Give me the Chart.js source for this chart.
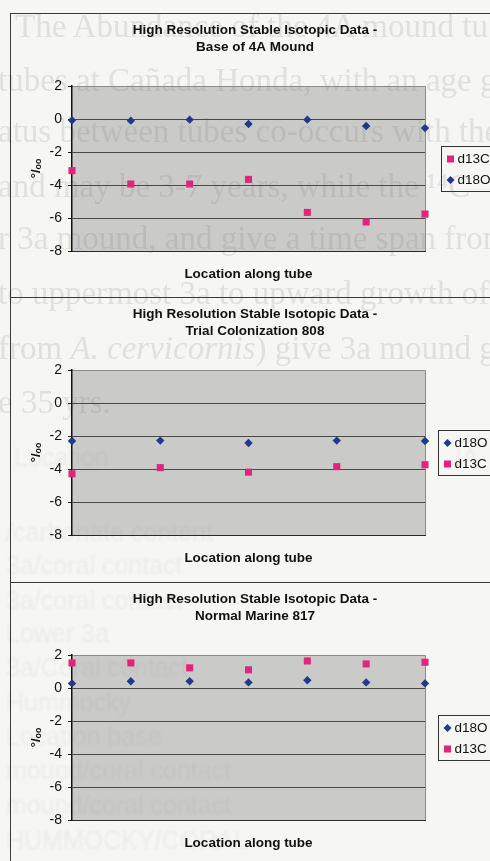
<!DOCTYPE html>
<html>
<head>
<meta charset="utf-8">
<script src="https://cdn.jsdelivr.net/npm/chart.js@4.4.1/dist/chart.umd.min.js"></script>
<style>
  html, body { margin: 0; padding: 0; width: 490px; height: 861px; overflow: hidden; background: #f6f6f3; }
  #page { position: absolute; left: 0; top: 0; width: 490px; height: 861px; overflow: hidden; }
  .bg { position: absolute; white-space: nowrap; font-family: 'Liberation Serif', 'Times New Roman', serif;
        font-size: 33px; line-height: 1; color: #e0e0de; filter: blur(0.7px); }
  .bg.tab { font-family: 'Liberation Sans', Arial, sans-serif; font-size: 25px; color: #ebebe9; filter: blur(1px); }
  .frame { position: absolute; left: 10px; width: 540px; border-left: 1px solid #3a3a3a; border-top: 1px solid #3a3a3a; }
  .frame canvas { position: absolute; left: 0; top: 0; }
</style>
</head>
<body>
<div id="page">
  <!-- page text printed underneath the figures -->
  <div class="bg" style="left:15px;top:10px">The Abundance of the 4A mound tubes are</div>
  <div class="bg" style="left:-2px;top:64px">tubes at Cañada Honda, with an age gap</div>
  <div class="bg" style="left:-2px;top:115px">atus between tubes co-occurs with the</div>
  <div class="bg" style="left:-2px;top:170px">and may be 3-7 years, while the ¹⁴C</div>
  <div class="bg" style="left:-2px;top:222px">r 3a mound, and give a time span from</div>
  <div class="bg" style="left:-2px;top:277px">to uppermost 3a to upward growth of T</div>
  <div class="bg" style="left:-2px;top:332px">from <i>A. cervicornis</i>) give 3a mound g</div>
  <div class="bg" style="left:-2px;top:386px">e 35 yrs.</div>
  <div class="bg tab" style="left:14px;top:445px">Location</div>
  <div class="bg tab" style="left:455px;top:445px">IA</div>
  <div class="bg tab" style="left:6px;top:520px">/carbonate content</div>
  <div class="bg tab" style="left:6px;top:553px">3a/coral contact</div>
  <div class="bg tab" style="left:6px;top:588px">3a/coral contact</div>
  <div class="bg tab" style="left:6px;top:621px">Lower 3a</div>
  <div class="bg tab" style="left:6px;top:655px">3a/Coral contact</div>
  <div class="bg tab" style="left:6px;top:690px">Hummocky</div>
  <div class="bg tab" style="left:6px;top:724px">Location base</div>
  <div class="bg tab" style="left:6px;top:758px">mound/coral contact</div>
  <div class="bg tab" style="left:6px;top:793px">mound/coral contact</div>
  <div class="bg tab" style="left:6px;top:828px">HUMMOCKY/CORAL</div>

  <div class="frame" style="top:13px;height:284px"><canvas id="c1" width="488" height="285"></canvas></div>
  <div class="frame" style="top:297px;height:285px"><canvas id="c2" width="488" height="285"></canvas></div>
  <div class="frame" style="top:582px;height:300px"><canvas id="c3" width="488" height="285"></canvas></div>
</div>

<script>
// Sample positions along each tube
const locations4A = ['1', '2', '3', '4', '5', '6', '7'];
const locations808 = ['1', '2', '3', '4', '5'];
const locations817 = ['1', '2', '3', '4', '5', '6', '7'];

// Base of 4A Mound (per mil)
const base4A_d13C = [-3.13, -3.94, -3.94, -3.66, -5.66, -6.24, -5.76];
const base4A_d18O = [-0.08, -0.10, -0.04, -0.30, -0.04, -0.42, -0.55];

// Trial Colonization 808 (per mil)
const trial808_d18O = [-2.30, -2.28, -2.42, -2.28, -2.30];
const trial808_d13C = [-4.29, -3.92, -4.19, -3.86, -3.74];

// Normal Marine 817 (per mil)
const marine817_d18O = [0.28, 0.41, 0.41, 0.34, 0.47, 0.34, 0.28];
const marine817_d13C = [1.52, 1.52, 1.22, 1.10, 1.64, 1.46, 1.56];

// Value axis
const yMin = -8;
const yMax = 2;
const yStep = 2;

const titleTop = 'High Resolution Stable Isotopic Data -';
const xTitle = 'Location along tube';
const yTitle = '°/ₒₒ';

const SANS = "'Liberation Sans', Arial, Helvetica, sans-serif";
const PINK = '#e1247c';
const NAVY = '#203a8a';

function carbon(values) {
  return { label: 'd13C', data: values, pointStyle: 'rect', pointRadius: 5,
           backgroundColor: PINK, borderColor: PINK, borderWidth: 0 };
}
function oxygen(values) {
  return { label: 'd18O', data: values, pointStyle: 'rectRot', pointRadius: 4.2,
           backgroundColor: NAVY, borderColor: NAVY, borderWidth: 0 };
}

// grey plot area with a light frame on top and right
const plotArea = {
  id: 'plotArea',
  beforeDraw(chart) {
    const { ctx, chartArea: a } = chart;
    ctx.save();
    ctx.fillStyle = 'rgba(118,118,116,0.34)';
    ctx.fillRect(a.left, a.top, a.right - a.left, a.bottom - a.top);
    ctx.strokeStyle = '#8c8c8a';
    ctx.lineWidth = 1;
    ctx.beginPath();
    ctx.moveTo(a.left, Math.round(a.top) + 0.5);
    ctx.lineTo(Math.round(a.right) + 0.5, Math.round(a.top) + 0.5);
    ctx.lineTo(Math.round(a.right) + 0.5, a.bottom);
    ctx.stroke();
    ctx.restore();
  }
};

// framed legend beside the plot area
const boxLegend = {
  id: 'boxLegend',
  afterDraw(chart, args, opts) {
    const { ctx, chartArea: a } = chart;
    const sets = chart.data.datasets;
    const x0 = Math.round(a.right + opts.dx) + 0.5;
    const cy = (a.top + a.bottom) / 2;
    const h = 45, w = 62;
    const y0 = Math.round(cy - h / 2) + 0.5;
    ctx.save();
    ctx.strokeStyle = '#333';
    ctx.lineWidth = 1;
    ctx.strokeRect(x0, y0, w, h);
    ctx.font = '13.5px ' + SANS;
    ctx.textBaseline = 'middle';
    ctx.textAlign = 'left';
    sets.forEach((d, i) => {
      const y = cy + 1 + (i - (sets.length - 1) / 2) * 21;
      const mx = x0 + 9;
      ctx.fillStyle = d.backgroundColor;
      ctx.beginPath();
      if (d.pointStyle === 'rect') {
        ctx.rect(mx - 3.5, y - 3.5, 7, 7);
      } else {
        ctx.moveTo(mx - 4, y); ctx.lineTo(mx, y - 4); ctx.lineTo(mx + 4, y); ctx.lineTo(mx, y + 4); ctx.closePath();
      }
      ctx.fill();
      ctx.fillStyle = '#111';
      ctx.fillText(d.label, x0 + 16, y + 0.5);
    });
    ctx.restore();
  }
};

function makeChart(id, subtitle, labels, datasets, legendDx) {
  return new Chart(document.getElementById(id), {
    type: 'line',
    data: { labels, datasets: datasets.map(d => Object.assign({ showLine: false, clip: false }, d)) },
    plugins: [plotArea, boxLegend],
    options: {
      responsive: false,
      devicePixelRatio: 1,
      animation: false,
      events: [],
      layout: { padding: 0 },
      plugins: {
        legend: { display: false },
        tooltip: { enabled: false },
        boxLegend: { dx: legendDx },
        title: {
          display: true,
          text: [titleTop, subtitle],
          color: '#111',
          font: { family: SANS, size: 13.5, weight: 'bold', lineHeight: '17px' },
          padding: { top: 8, bottom: 30 }
        }
      },
      scales: {
        x: {
          type: 'category',
          offset: false,
          ticks: { display: false },
          grid: { display: false },
          border: { display: true, color: '#2a2a2a', width: 1 },
          title: {
            display: true, text: xTitle, color: '#111',
            font: { family: SANS, size: 13.5, weight: 'bold' },
            padding: { top: 4, bottom: 17 }
          },
          afterFit(s) { s.height = 48; }
        },
        y: {
          min: yMin, max: yMax,
          ticks: { stepSize: yStep, color: '#111', font: { family: SANS, size: 14 }, padding: 6 },
          grid: {
            color: c => (c.tick && c.tick.value === yMax) ? '#8c8c8a' : '#4a4a4a',
            lineWidth: 1, drawTicks: true, tickLength: 4, tickColor: '#222'
          },
          border: { display: true, color: '#111', width: 1.5 },
          title: {
            display: true, text: yTitle, color: '#111',
            font: { family: SANS + ", 'DejaVu Sans'", size: 13, weight: 'bold' },
            padding: { top: 18, bottom: 0 }
          },
          afterFit(s) { s.width = 61; }
        },
        // empty right-hand band that holds the legend box
        legendBand: {
          type: 'linear',
          position: 'right',
          display: true,
          grid: { display: false },
          border: { display: false },
          ticks: { display: false },
          afterFit(s) { s.width = 74; }
        }
      }
    }
  });
}

makeChart('c1', 'Base of 4A Mound', locations4A, [carbon(base4A_d13C), oxygen(base4A_d18O)], 16);
makeChart('c2', 'Trial Colonization 808', locations808, [oxygen(trial808_d18O), carbon(trial808_d13C)], 13);
makeChart('c3', 'Normal Marine 817', locations817, [oxygen(marine817_d18O), carbon(marine817_d13C)], 13);
</script>
</body>
</html>
